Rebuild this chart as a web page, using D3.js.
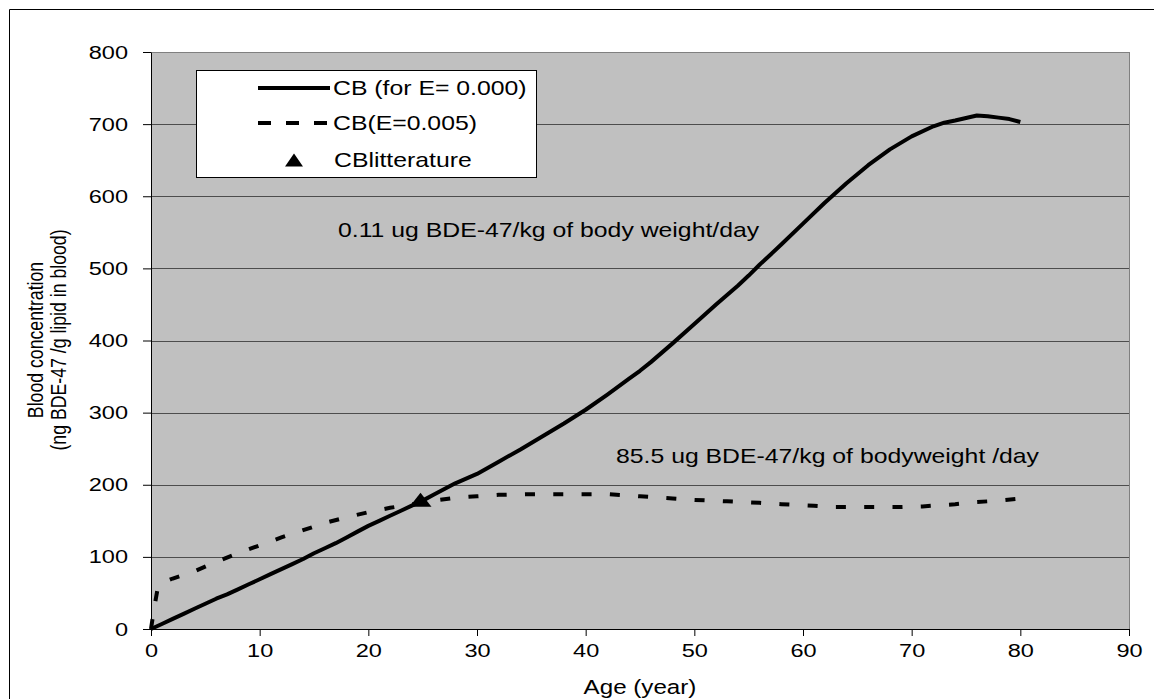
<!DOCTYPE html>
<html>
<head>
<meta charset="utf-8">
<script src="https://cdn.jsdelivr.net/npm/d3@7"></script>
<style>
  body { margin: 0; background: #fff; }
  text { font-family: "Liberation Sans", Arial, sans-serif; fill: #000; }
</style>
</head>
<body>
<script>
// CB for E = 0.000 (solid)
const ageE0 = [0,1,2,3,4,5,6,7,8,9,10,11,12,13,14,15,16,17,18,19,20,21,22,23,24,25,26,27,28,30,32,34,35,36,38,40,42,44,45,46,48,50,52,54,55,56,57,58,60,62,64,66,68,70,72,73,74,76,77,78,79,80];
const cbE0  = [0,7,14,21,28,35,42,48,55,62,69,76,83,90,97,105,112,119,127,135,143,150,157,164,171,178,186,194,202,215,232,249,258,267,285,304,325,347,358,370,396,423,450,476,490,505,519,533,562,591,618,643,665,683,697,702,705,712,711,709,707,703];

// CB for E = 0.005 (dashed)
const ageE5 = [0,0.3,0.6,1,2,4,6,8,10,12,14,16,18,20,22,24,26,28,30,32,35,38,42,45,48,50,53,56,58,61,63,66,69,71,74,76,78,80];
const cbE5  = [0,30,55,64,70,80,93,105,116,127,137,147,155,162,168,173,178,182,184,186,187,187,187,184,181,179,177,175,173,171,169,169,169,170,173,176,178,181];

// literature point
const litAge = [24.8];
const litCB  = [171];

const xTicks = [0,10,20,30,40,50,60,70,80,90];
const yTicks = [0,100,200,300,400,500,600,700,800];

const legendLabels = ["CB (for E= 0.000)", "CB(E=0.005)", "CBlitterature"];
const note1 = "0.11 ug BDE-47/kg of body weight/day";
const note2 = "85.5 ug BDE-47/kg of bodyweight /day";

const W = 1154, H = 699;
const SX = 1.24; // the picture is stretched sideways

const svg = d3.select("body").append("svg")
    .attr("width", W)
    .attr("height", H);

// outer frame (top and left only visible)
svg.append("path")
    .attr("d", "M9.5,720V9.5H1170")
    .attr("fill", "none")
    .attr("stroke", "#000")
    .attr("stroke-width", 1);

const x = d3.scaleLinear().domain([0, 90]).range([151, 1129]);
const y = d3.scaleLinear().domain([0, 800]).range([629, 52]);

// plot area
svg.append("rect")
    .attr("x", x(0)).attr("y", y(800))
    .attr("width", x(90) - x(0)).attr("height", y(0) - y(800))
    .attr("fill", "#c0c0c0");

svg.append("line")
    .attr("x1", x(90) + 0.5).attr("x2", x(90) + 0.5)
    .attr("y1", y(800)).attr("y2", y(0))
    .attr("stroke", "#808080");

// gridlines
svg.selectAll("line.grid")
    .data(yTicks.filter(d => d > 0))
    .enter().append("line")
    .attr("class", "grid")
    .attr("x1", x(0)).attr("x2", x(90))
    .attr("y1", d => Math.round(y(d)) + 0.5)
    .attr("y2", d => Math.round(y(d)) + 0.5)
    .attr("stroke", d => d === 800 ? "#808080" : "#4d4d4d")
    .attr("stroke-width", 1);

// axes
const xAxis = svg.append("g")
    .attr("transform", `translate(0,${y(0)})`)
    .call(d3.axisBottom(x).tickValues(xTicks).tickSize(7).tickSizeOuter(0));
xAxis.selectAll("text")
    .attr("y", 28).attr("dy", null)
    .attr("transform", `scale(${SX},1)`)
    .style("font-size", "19px")
    .style("font-family", "Liberation Sans, Arial, sans-serif");

const yAxis = svg.append("g")
    .attr("transform", `translate(${x(0)},0)`)
    .call(d3.axisLeft(y).tickValues(yTicks).tickSize(8).tickSizeOuter(0));
yAxis.selectAll("text")
    .attr("x", -23 / SX)
    .attr("transform", `scale(${SX},1)`)
    .style("font-size", "19px")
    .style("font-family", "Liberation Sans, Arial, sans-serif");
svg.selectAll(".domain, .tick line").attr("stroke", "#000");

// series
const line = d3.line().x(d => x(d[0])).y(d => y(d[1]));

svg.append("path")
    .datum(d3.zip(ageE5, cbE5))
    .attr("d", line)
    .attr("fill", "none")
    .attr("stroke", "#000")
    .attr("stroke-width", 4)
    .attr("stroke-dasharray", "10,18.3");

svg.append("path")
    .datum(d3.zip(ageE0, cbE0))
    .attr("d", line)
    .attr("fill", "none")
    .attr("stroke", "#000")
    .attr("stroke-width", 4)
    .attr("stroke-linejoin", "round");

const tri = (w, h) => `M0,${-h / 2}L${w / 2},${h / 2}L${-w / 2},${h / 2}Z`;

svg.selectAll("path.lit")
    .data(d3.zip(litAge, litCB))
    .enter().append("path")
    .attr("class", "lit")
    .attr("transform", d => `translate(${x(d[0])},${y(d[1]) - 6})`)
    .attr("d", tri(22, 14))
    .attr("fill", "#000");

// stretched text helper
function label(str, px, py, size, anchor) {
    return svg.append("text")
        .attr("transform", `translate(${px},${py}) scale(${SX},1)`)
        .attr("text-anchor", anchor || "start")
        .style("font-size", size + "px")
        .text(str);
}

// legend
svg.append("rect")
    .attr("x", 196.5).attr("y", 70.5)
    .attr("width", 340).attr("height", 107)
    .attr("fill", "#fff")
    .attr("stroke", "#000");

const rows = [88, 123, 160];
svg.append("line")
    .attr("x1", 258).attr("x2", 330).attr("y1", rows[0]).attr("y2", rows[0])
    .attr("stroke", "#000").attr("stroke-width", 4);
svg.append("line")
    .attr("x1", 258).attr("x2", 330).attr("y1", rows[1]).attr("y2", rows[1])
    .attr("stroke", "#000").attr("stroke-width", 4)
    .attr("stroke-dasharray", "13,15");
svg.append("path")
    .attr("transform", `translate(294,${rows[2]})`)
    .attr("d", tri(18, 13))
    .attr("fill", "#000");

legendLabels.forEach((t, i) => {
    label(t, i === 2 ? 334 : 333, rows[i] + 7, 20);
});

// notes
label(note1, 338, 237, 20);
label(note2, 616, 463, 20);

// axis titles
label("Age (year)", 640, 694, 19.5, "middle");

svg.append("text")
    .attr("transform", `translate(43,340) scale(${SX},1) rotate(-90)`)
    .attr("text-anchor", "middle")
    .style("font-size", "17.7px")
    .text("Blood concentration");
svg.append("text")
    .attr("transform", `translate(66,340) scale(${SX},1) rotate(-90)`)
    .attr("text-anchor", "middle")
    .style("font-size", "17.7px")
    .text("(ng BDE-47 /g lipid in blood)");
</script>
</body>
</html>
